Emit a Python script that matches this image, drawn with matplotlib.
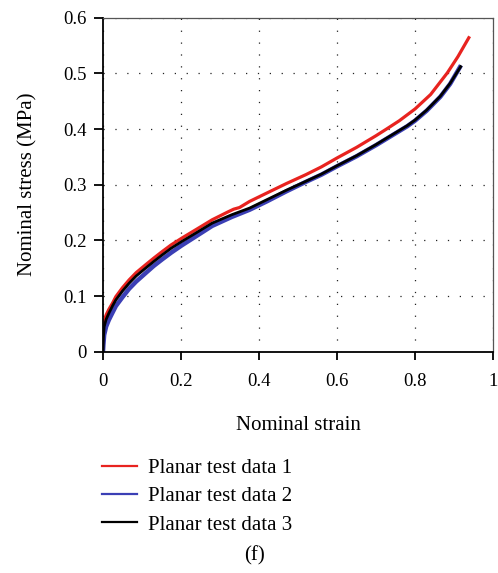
import matplotlib.pyplot as plt

plt.rcParams['font.family'] = ['Liberation Serif', 'DejaVu Serif']

# DATA
red_x = [0, 0.001, 0.003, 0.008, 0.015, 0.025, 0.033, 0.05, 0.067, 0.085, 0.109, 0.13, 0.152, 0.175,
         0.202, 0.24, 0.28, 0.32, 0.335, 0.35, 0.376, 0.42, 0.47, 0.52, 0.56, 0.6, 0.65, 0.7, 0.727,
         0.76, 0.8, 0.84, 0.883, 0.91, 0.938]
red_y = [0, 0.035, 0.055, 0.066, 0.076, 0.088, 0.099, 0.115, 0.129, 0.142, 0.156, 0.168, 0.180, 0.192,
         0.204, 0.220, 0.237, 0.251, 0.256, 0.259, 0.270, 0.285, 0.302, 0.318, 0.332, 0.348, 0.367, 0.388, 0.400,
         0.415, 0.436, 0.462, 0.501, 0.530, 0.564]

black_x = [0, 0.001, 0.003, 0.008, 0.015, 0.025, 0.033, 0.05, 0.067, 0.085, 0.109, 0.13, 0.152, 0.175,
           0.202, 0.24, 0.28, 0.33, 0.376, 0.42, 0.47, 0.52, 0.56, 0.6, 0.65, 0.7, 0.74, 0.78, 0.8,
           0.83, 0.865, 0.89, 0.917]
black_y = [0, 0.025, 0.045, 0.058, 0.069, 0.083, 0.093, 0.109, 0.123, 0.136, 0.150, 0.162, 0.174, 0.186,
           0.198, 0.214, 0.231, 0.246, 0.258, 0.273, 0.290, 0.306, 0.319, 0.334, 0.352, 0.372, 0.389, 0.406, 0.416,
           0.434, 0.459, 0.482, 0.512]

blue_x = [0, 0.001, 0.003, 0.008, 0.015, 0.025, 0.033, 0.05, 0.067, 0.085, 0.109, 0.13, 0.152, 0.175,
          0.202, 0.24, 0.28, 0.33, 0.376, 0.42, 0.47, 0.52, 0.56, 0.6, 0.65, 0.7, 0.74, 0.78, 0.8,
          0.83, 0.865, 0.89, 0.915]
blue_y = [0, 0.012, 0.03, 0.045, 0.057, 0.071, 0.082, 0.098, 0.113, 0.126, 0.141, 0.154, 0.166, 0.178,
          0.191, 0.208, 0.226, 0.242, 0.255, 0.270, 0.288, 0.305, 0.318, 0.333, 0.351, 0.371, 0.388, 0.405, 0.415,
          0.433, 0.458, 0.481, 0.511]

x_ticks = [0, 0.2, 0.4, 0.6, 0.8, 1]
x_tick_labels = ['0', '0.2', '0.4', '0.6', '0.8', '1']
y_ticks = [0, 0.1, 0.2, 0.3, 0.4, 0.5, 0.6]
y_tick_labels = ['0', '0.1', '0.2', '0.3', '0.4', '0.5', '0.6']

labels = ['Planar test data 1', 'Planar test data 2', 'Planar test data 3']

# FIGURE
W, H = 498, 573
fig = plt.figure(figsize=(W / 100, H / 100), dpi=100)
ax = fig.add_axes([103 / W, (H - 351.7) / H, 390 / W, 334 / H])

ax.plot(red_x, red_y, color='#e8231f', lw=2.3, label=labels[0])
ax.plot(blue_x, blue_y, color='#3b3fb5', lw=3.2, label=labels[1])
ax.plot(black_x, black_y, color='black', lw=2.0, label=labels[2])

ax.set_xlim(0, 1)
ax.set_ylim(0, 0.6)
ax.set_xticks(x_ticks)
ax.set_xticklabels(x_tick_labels)
ax.set_yticks(y_ticks)
ax.set_yticklabels(y_tick_labels)

ax.grid(True, color='#222222', linestyle=(0, (1, 8.5)), linewidth=0.9)
ax.tick_params(axis='both', labelsize=13.5, direction='out', width=1.3, color='black')
ax.tick_params(axis='x', length=6, pad=9)
ax.tick_params(axis='y', length=6.5, pad=5)

for side in ['left', 'bottom']:
    ax.spines[side].set_linewidth(1.3)
    ax.spines[side].set_color('black')
for side in ['top', 'right']:
    ax.spines[side].set_linewidth(0.9)
    ax.spines[side].set_color('#555555')

ax.set_xlabel('Nominal strain', fontsize=15, labelpad=19)
ax.set_ylabel('Nominal stress (MPa)', fontsize=15, labelpad=19)

# LEGEND below the plot
leg = ax.legend(loc='upper left', bbox_to_anchor=(83 / W, 1 - 440 / H), bbox_transform=fig.transFigure,
                frameon=False, fontsize=15, handlelength=1.7, handletextpad=0.5, labelspacing=0.41)
for line in leg.get_lines():
    line.set_linewidth(1.6)

fig.text(254 / W, 1 - 556 / H, '(f)', ha='center', va='center', fontsize=15)

plt.savefig('out.png', dpi=100)
